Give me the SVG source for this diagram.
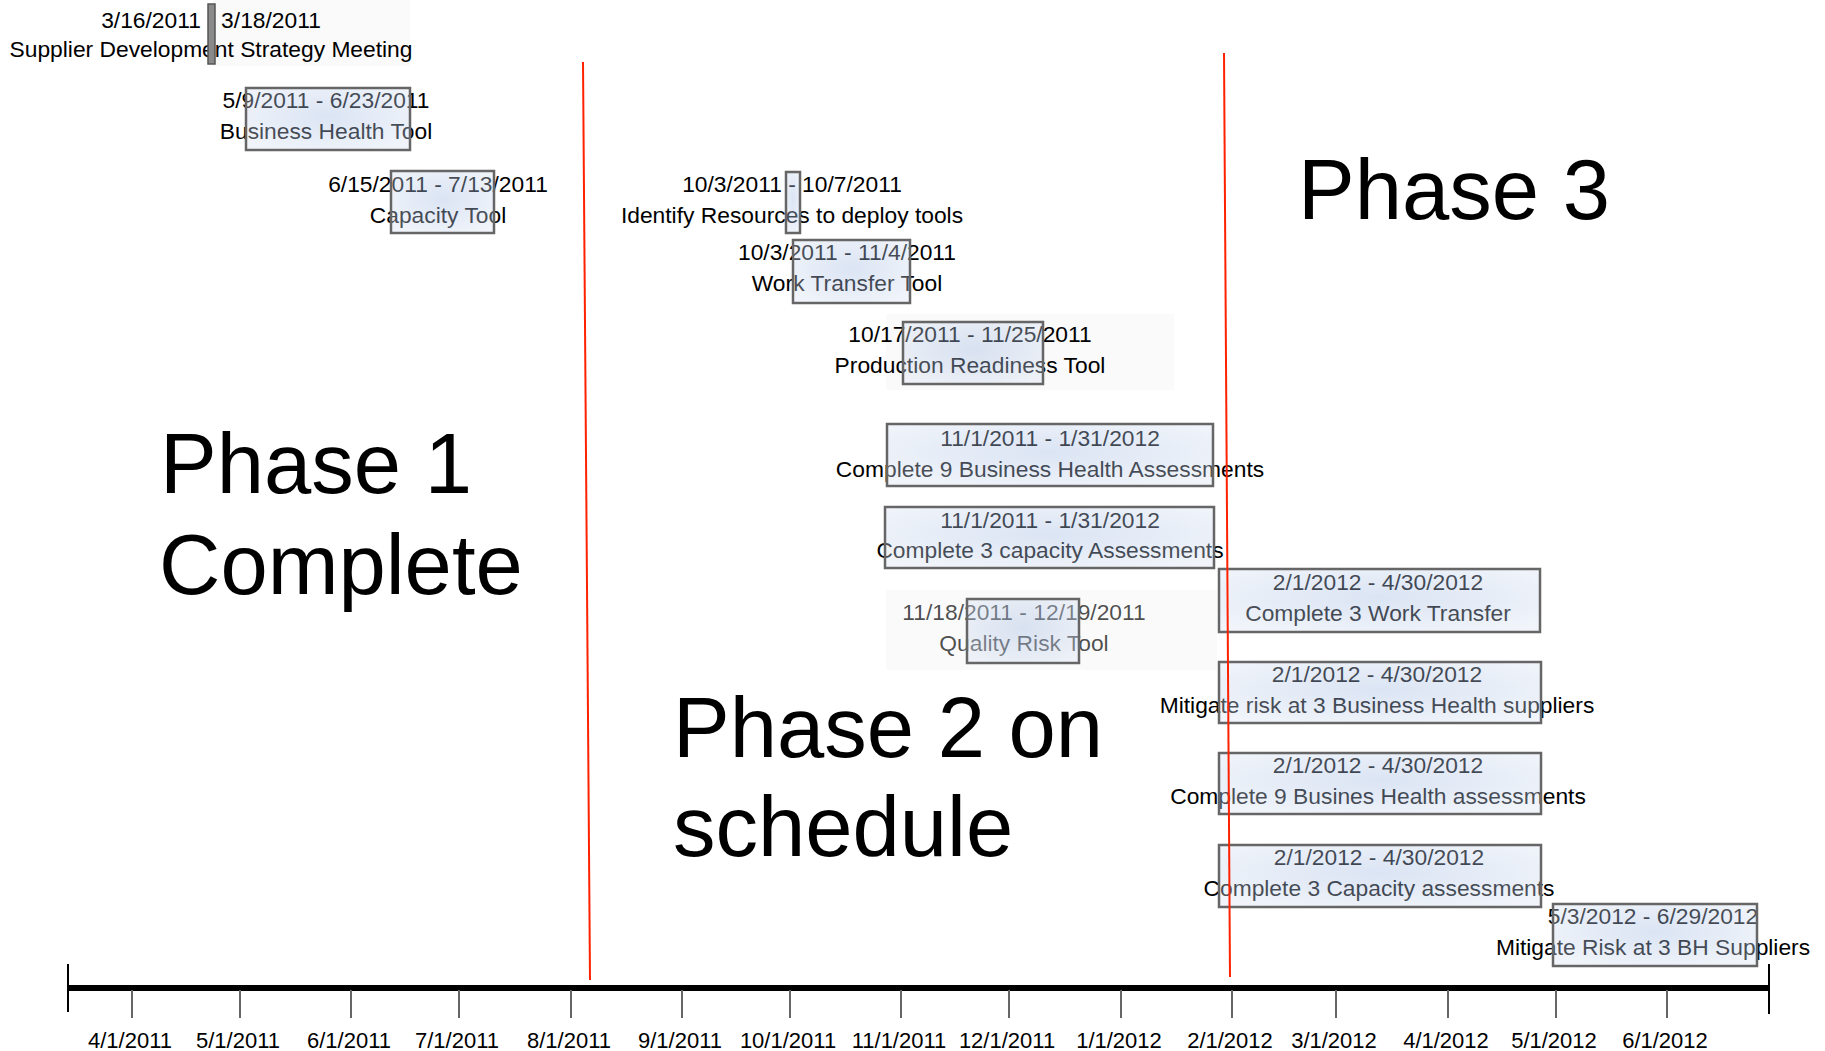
<svg xmlns="http://www.w3.org/2000/svg" width="1825" height="1051" viewBox="0 0 1825 1051">
<defs>
<radialGradient id="barFill" cx="50%" cy="45%" r="65%">
<stop offset="0%" stop-color="#9bb5e0"/>
<stop offset="100%" stop-color="#d8e2f2"/>
</radialGradient>
<style>
.t{font-family:"Liberation Sans",Arial,sans-serif;font-size:22.8px;fill:#000;text-anchor:middle}
.ph{font-family:"Liberation Sans",Arial,sans-serif;font-size:85px;fill:#000}
.bar{fill:url(#barFill);fill-opacity:0.36;stroke:#666;stroke-width:2.5}
.pale{fill:#fafafa}
.tick{stroke:#666;stroke-width:2}
.red{stroke:#ff2200;stroke-width:2}
.ml{font-family:"Liberation Sans",Arial,sans-serif;font-size:22px;fill:#000;text-anchor:middle}
</style>
</defs>
<rect width="1825" height="1051" fill="#fff"/>
<g id="backgrounds">
<rect class="pale" x="213" y="0" width="197" height="66"/>
<rect class="pale" x="886" y="314" width="288" height="76"/>
<rect class="pale" x="886" y="590" width="331" height="80"/>
</g>
<g id="phase-labels">
<text class="ph" x="1298" y="219">Phase 3</text>
<text class="ph" x="160" y="493">Phase 1</text>
<text class="ph" x="159" y="594">Complete</text>
<text class="ph" x="673" y="757">Phase 2 on</text>
<text class="ph" x="673" y="856">schedule</text>
</g>
<g id="task-supplier-meeting">
<text class="t" x="211" y="28">3/16/2011 - 3/18/2011</text>
<text class="t" x="211" y="57">Supplier Development Strategy Meeting</text>
<rect x="208" y="4" width="7" height="60" fill="#8a8a8a" stroke="#555" stroke-width="1.5"/>
</g>
<g id="task-business-health-tool">
<text class="t" x="326" y="108">5/9/2011 - 6/23/2011</text>
<text class="t" x="326" y="139">Business Health Tool</text>
<rect class="bar" x="246" y="88" width="164" height="62"/>
</g>
<g id="task-capacity-tool">
<text class="t" x="438" y="192">6/15/2011 - 7/13/2011</text>
<text class="t" x="438" y="223">Capacity Tool</text>
<rect class="bar" x="391" y="171" width="103" height="62"/>
</g>
<g id="task-identify-resources">
<text class="t" x="792" y="192">10/3/2011 - 10/7/2011</text>
<text class="t" x="792" y="223">Identify Resources to deploy tools</text>
<rect class="bar" x="786" y="172" width="14" height="61"/>
</g>
<g id="task-work-transfer-tool">
<text class="t" x="847" y="260">10/3/2011 - 11/4/2011</text>
<text class="t" x="847" y="291">Work Transfer Tool</text>
<rect class="bar" x="793" y="240" width="117" height="63"/>
</g>
<g id="task-production-readiness-tool">
<text class="t" x="970" y="342">10/17/2011 - 11/25/2011</text>
<text class="t" x="970" y="373">Production Readiness Tool</text>
<rect class="bar" x="903" y="322" width="140" height="62"/>
</g>
<g id="task-complete-9-bha">
<text class="t" x="1050" y="446">11/1/2011 - 1/31/2012</text>
<text class="t" x="1050" y="477">Complete 9 Business Health Assessments</text>
<rect class="bar" x="887" y="424" width="326" height="62"/>
</g>
<g id="task-complete-3-capacity">
<text class="t" x="1050" y="528">11/1/2011 - 1/31/2012</text>
<text class="t" x="1050" y="558">Complete 3 capacity Assessments</text>
<rect class="bar" x="885" y="507" width="329" height="61"/>
</g>
<g id="task-quality-risk-tool">
<text class="t" x="1024" y="620" fill-opacity="0.7">11/18/2011 - 12/19/2011</text>
<text class="t" x="1024" y="651" fill-opacity="0.7">Quality Risk Tool</text>
<rect class="bar" x="967" y="599" width="112" height="64"/>
</g>
<g id="task-complete-3-work-transfer">
<text class="t" x="1378" y="590">2/1/2012 - 4/30/2012</text>
<text class="t" x="1378" y="621">Complete 3 Work Transfer</text>
<rect class="bar" x="1219" y="569" width="321" height="63"/>
</g>
<g id="task-mitigate-risk-bh">
<text class="t" x="1377" y="682">2/1/2012 - 4/30/2012</text>
<text class="t" x="1377" y="713">Mitigate risk at 3 Business Health suppliers</text>
<rect class="bar" x="1219" y="662" width="322" height="61"/>
</g>
<g id="task-complete-9-bha-2">
<text class="t" x="1378" y="773">2/1/2012 - 4/30/2012</text>
<text class="t" x="1378" y="804">Complete 9 Busines Health assessments</text>
<rect class="bar" x="1219" y="753" width="322" height="61"/>
</g>
<g id="task-complete-3-capacity-2">
<text class="t" x="1379" y="865">2/1/2012 - 4/30/2012</text>
<text class="t" x="1379" y="896">Complete 3 Capacity assessments</text>
<rect class="bar" x="1219" y="845" width="322" height="62"/>
</g>
<g id="task-mitigate-risk-bh-suppliers">
<text class="t" x="1653" y="924">5/3/2012 - 6/29/2012</text>
<text class="t" x="1653" y="955">Mitigate Risk at 3 BH Suppliers</text>
<rect class="bar" x="1553" y="904" width="204" height="62"/>
</g>
<g id="dividers">
<line class="red" x1="583" y1="62" x2="590" y2="980"/>
<line class="red" x1="1224" y1="53" x2="1230" y2="977"/>
</g>
<g id="axis">
<line x1="68" y1="988" x2="1769" y2="988" stroke="#000" stroke-width="6"/>
<line x1="68" y1="964" x2="68" y2="1012" stroke="#000" stroke-width="2"/>
<line x1="1769" y1="964" x2="1769" y2="1014" stroke="#000" stroke-width="2"/>
<line class="tick" x1="132" y1="990" x2="132" y2="1018"/>
<line class="tick" x1="240" y1="990" x2="240" y2="1018"/>
<line class="tick" x1="351" y1="990" x2="351" y2="1018"/>
<line class="tick" x1="459" y1="990" x2="459" y2="1018"/>
<line class="tick" x1="571" y1="990" x2="571" y2="1018"/>
<line class="tick" x1="682" y1="990" x2="682" y2="1018"/>
<line class="tick" x1="790" y1="990" x2="790" y2="1018"/>
<line class="tick" x1="901" y1="990" x2="901" y2="1018"/>
<line class="tick" x1="1009" y1="990" x2="1009" y2="1018"/>
<line class="tick" x1="1121" y1="990" x2="1121" y2="1018"/>
<line class="tick" x1="1232" y1="990" x2="1232" y2="1018"/>
<line class="tick" x1="1336" y1="990" x2="1336" y2="1018"/>
<line class="tick" x1="1448" y1="990" x2="1448" y2="1018"/>
<line class="tick" x1="1556" y1="990" x2="1556" y2="1018"/>
<line class="tick" x1="1667" y1="990" x2="1667" y2="1018"/>
<text class="ml" x="130" y="1048">4/1/2011</text>
<text class="ml" x="238" y="1048">5/1/2011</text>
<text class="ml" x="349" y="1048">6/1/2011</text>
<text class="ml" x="457" y="1048">7/1/2011</text>
<text class="ml" x="569" y="1048">8/1/2011</text>
<text class="ml" x="680" y="1048">9/1/2011</text>
<text class="ml" x="788" y="1048">10/1/2011</text>
<text class="ml" x="899" y="1048">11/1/2011</text>
<text class="ml" x="1007" y="1048">12/1/2011</text>
<text class="ml" x="1119" y="1048">1/1/2012</text>
<text class="ml" x="1230" y="1048">2/1/2012</text>
<text class="ml" x="1334" y="1048">3/1/2012</text>
<text class="ml" x="1446" y="1048">4/1/2012</text>
<text class="ml" x="1554" y="1048">5/1/2012</text>
<text class="ml" x="1665" y="1048">6/1/2012</text>
</g>
</svg>
